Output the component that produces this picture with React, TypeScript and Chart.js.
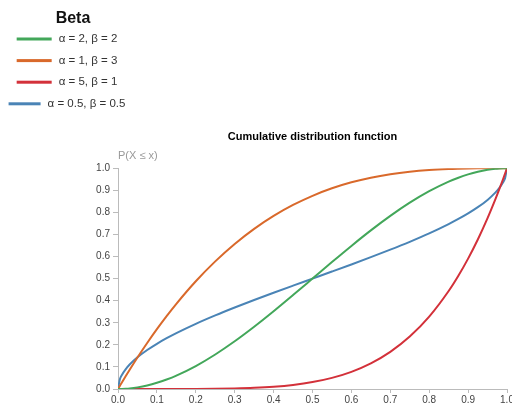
import React, { useEffect, useRef } from "react";
import { Chart, registerables } from "chart.js";

Chart.register(...registerables);

const FONT = "'Liberation Sans', Arial, sans-serif";

const legendTitle = "Beta";
const chartTitle = "Cumulative distribution function";
const yAxisLabel = "P(X ≤ x)";

const seriesLabels = ["α = 2, β = 2", "α = 1, β = 3", "α = 5, β = 1", "α = 0.5, β = 0.5"];
const seriesColors = ["#43a75a", "#d9692b", "#d3313a", "#4a84b6"];

const tickValues = [0, 0.1, 0.2, 0.3, 0.4, 0.5, 0.6, 0.7, 0.8, 0.9, 1.0];

const xs = [0, 0.005, 0.01, 0.02, 0.03, 0.05, 0.075, 0.1, 0.125, 0.15, 0.2, 0.25, 0.3, 0.35, 0.4, 0.45, 0.5,
  0.55, 0.6, 0.65, 0.7, 0.75, 0.8, 0.85, 0.875, 0.9, 0.925, 0.95, 0.97, 0.98, 0.99, 0.995, 1];

const green = [0, 0.0001, 0.0003, 0.0012, 0.0026, 0.0073, 0.016, 0.028, 0.043, 0.0608, 0.104, 0.1563, 0.216, 0.2818,
  0.352, 0.4253, 0.5, 0.5748, 0.648, 0.7183, 0.784, 0.8438, 0.896, 0.9393, 0.957, 0.972, 0.984, 0.9928, 0.9974, 0.9988,
  0.9997, 0.9999, 1];

const orange = [0, 0.0149, 0.0297, 0.0588, 0.0873, 0.1426, 0.2085, 0.271, 0.3301, 0.3859, 0.488, 0.5781, 0.657, 0.7254,
  0.784, 0.8336, 0.875, 0.9089, 0.936, 0.9571, 0.973, 0.9844, 0.992, 0.9966, 0.998, 0.999, 0.9996, 0.9999, 1, 1, 1, 1, 1];

const red = [0, 0, 0, 0, 0, 0, 0, 0.00001, 0.00003, 0.00008, 0.00032, 0.00098, 0.00243, 0.00525, 0.01024, 0.01845,
  0.03125, 0.05033, 0.07776, 0.11603, 0.16807, 0.2373, 0.32768, 0.44371, 0.51291, 0.59049, 0.67719, 0.77378, 0.85873,
  0.90392, 0.95099, 0.97525, 1];

const blue = [0, 0.04505, 0.06377, 0.09033, 0.11082, 0.14357, 0.1766, 0.20483, 0.23005, 0.25318, 0.29517, 0.33333,
  0.36901, 0.40301, 0.43591, 0.46812, 0.5, 0.53188, 0.56409, 0.59699, 0.63099, 0.66667, 0.70483, 0.74682, 0.76995,
  0.79517, 0.8234, 0.85643, 0.88918, 0.90967, 0.93623, 0.95495, 1];

const seriesValues = [green, orange, red, blue];

const overlayPlugin = {
  id: "overlay",
  afterDraw(chart: any) {
    const ctx = chart.ctx as CanvasRenderingContext2D;
    const area = chart.chartArea;
    ctx.save();
    // y axis label
    ctx.font = `11px ${FONT}`;
    ctx.fillStyle = "#999";
    ctx.textAlign = "left";
    ctx.textBaseline = "middle";
    ctx.fillText(yAxisLabel, area.left, area.top - 12);

    // legend
    const cx = 67;
    ctx.font = `bold 16px ${FONT}`;
    ctx.fillStyle = "#111";
    ctx.textAlign = "center";
    ctx.fillText(legendTitle, 73, 19);
    ctx.font = `11.5px ${FONT}`;
    const gap = 7;
    chart.data.datasets.forEach((ds: any, i: number) => {
      const y = 39 + i * 21.6;
      const lineW = i === 3 ? 32 : 35;
      const tw = ctx.measureText(ds.label).width;
      const total = lineW + gap + tw;
      const x0 = cx - total / 2;
      ctx.fillStyle = ds.borderColor;
      ctx.fillRect(x0, y - 1.5, lineW, 3);
      ctx.fillStyle = "#333";
      ctx.textAlign = "left";
      ctx.fillText(ds.label, x0 + lineW + gap, y);
    });
    ctx.restore();
  },
};

export default function App() {
  const ref = useRef<HTMLCanvasElement>(null);
  useEffect(() => {
    if (!ref.current) return;
    const datasets = seriesLabels.map((label, i) => ({
      label,
      data: xs.map((x, j) => ({ x, y: seriesValues[i][j] })),
      borderColor: seriesColors[i],
      backgroundColor: seriesColors[i],
      borderWidth: 2,
      pointRadius: 0,
      cubicInterpolationMode: "monotone" as const,
      fill: false,
    }));
    const chart = new Chart(ref.current, {
      type: "line",
      data: { datasets },
      plugins: [overlayPlugin],
      options: {
        animation: false,
        responsive: false,
        layout: { padding: { top: 118, left: 0, right: 5, bottom: 0 } },
        plugins: {
          legend: { display: false },
          tooltip: { enabled: false },
          title: {
            display: true,
            text: chartTitle,
            fullSize: false,
            weight: 10,
            color: "#000",
            font: { family: FONT, size: 11, weight: "bold" },
            padding: { top: 12, bottom: 25 },
          } as any,
        },
        scales: {
          x: {
            type: "linear",
            min: 0,
            max: 1,
            afterBuildTicks: (s: any) => {
              s.ticks = tickValues.map((v) => ({ value: v }));
            },
            afterFit: (s: any) => {
              s.height = 15;
              s.paddingLeft = 0;
              s.paddingRight = 0;
            },
            ticks: {
              callback: (v: any) => Number(v).toFixed(1),
              color: "#444",
              font: { family: FONT, size: 10 },
              padding: 1,
              maxRotation: 0,
              autoSkip: false,
            },
            grid: { drawOnChartArea: false, tickLength: 4, color: "#bbb" },
            border: { color: "#bbb", width: 1 },
          },
          y: {
            type: "linear",
            min: 0,
            max: 1,
            afterBuildTicks: (s: any) => {
              s.ticks = tickValues.map((v) => ({ value: v }));
            },
            afterFit: (s: any) => {
              s.width = 118;
              s.paddingTop = 0;
              s.paddingBottom = 0;
            },
            ticks: {
              callback: (v: any) => Number(v).toFixed(1),
              color: "#444",
              font: { family: FONT, size: 10 },
              padding: 3,
              autoSkip: false,
            },
            grid: { drawOnChartArea: false, tickLength: 5, color: "#bbb" },
            border: { color: "#bbb", width: 1 },
          },
        },
      },
    });
    return () => chart.destroy();
  }, []);
  return (
    <div style={{ position: "absolute", left: 0, top: 0, width: 512, height: 404, background: "#fff" }}>
      <canvas ref={ref} width={512} height={404} style={{ width: 512, height: 404, display: "block" }} />
    </div>
  );
}
